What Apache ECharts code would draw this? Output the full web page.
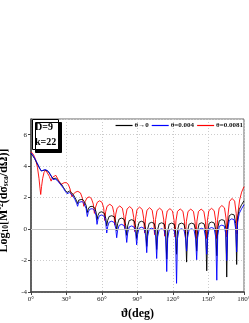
<!DOCTYPE html>
<html><head><meta charset="utf-8">
<script src="https://cdn.jsdelivr.net/npm/echarts@6/dist/echarts.min.js"></script>
<style>html,body{margin:0;padding:0;background:#fff}#c{width:249px;height:323px}</style>
</head><body><div id="c"></div>
<script>
const seriesNames = ['θ→0', 'θ=0.004', 'θ=0.0081'];
const xTicks = [0, 30, 60, 90, 120, 150, 180];
const yTicks = [-4, -2, 0, 2, 4, 6];

const angleRed = [0,2,4,5.5,6.8,7.6,8.2,8.9,9.8,11,12.5,14,15.5,17,18.3,19.6,21,22.5,24,25,26.2,28,29.8,31.5,33,34.6,35.8,37.5,39.6,41.8,43.5,44.6,45.8,47.3,49.1,51,52.6,53.6,54.6,56,58,60,61.4,62.3,
 63.1,64.3,66.6,68.8,70.0,70.8, 71.6,72.8,75.0,77.2,78.4,79.2, 80.0,81.2,83.4,85.6,86.8,87.6,
 88.4,89.6,91.8,94.0,95.2,96.0, 96.8,98.0,100.2,102.4,103.6,104.4, 105.2,106.5,108.7,110.9,112.2,113.0,
 113.8,115.1,117.4,119.6,120.9,121.7, 122.5,123.8,126.1,128.4,129.7,130.5, 131.3,132.7,135.0,137.3,138.6,139.4,
 140.2,141.5,143.8,146.1,147.4,148.2, 149.0,150.3,152.6,154.8,156.1,156.9, 157.7,159.0,161.3,163.5,164.8,165.6,
 166.4,167.7,169.9,172.1,173.4,174.2, 175.0,176.3,178.0,180.0];
const valueRed = [4.92,4.75,4.4,3.9,3.2,2.6,2.2,2.7,3.2,3.6,3.75,3.65,3.35,3.05,3.3,3.4,3.42,3.3,3.0,2.82,2.9,2.95,2.95,2.85,2.55,2.05,2.22,2.35,2.4,2.3,1.95,1.45,1.75,1.98,2.05,1.95,1.6,1.0,1.4,1.7,1.8,1.7,1.35,0.55,
 1.1,1.45,1.58,1.45,1.05,0.25, 0.95,1.33,1.47,1.33,0.85,0.05, 0.8,1.28,1.43,1.28,0.75,-0.15,
 0.7,1.25,1.40,1.25,0.7,-0.25, 0.65,1.2,1.36,1.2,0.62,-0.35, 0.6,1.18,1.33,1.18,0.58,-0.45,
 0.55,1.15,1.30,1.15,0.55,-0.5, 0.52,1.13,1.28,1.13,0.5,-0.55, 0.5,1.12,1.27,1.12,0.5,-0.6,
 0.5,1.12,1.27,1.12,0.5,-0.6, 0.52,1.17,1.32,1.17,0.55,-0.6, 0.62,1.33,1.5,1.35,0.7,-0.5,
 0.85,1.75,1.95,1.78,1.0,-0.3, 1.1,1.85,2.35,2.7];

const angleBB = [0,1.5,3,4.5,6,7.5,8.7,10,12,14,15.5,17,18.6,19.8,21,22.8,24.5,26,27.5,29,30.5,31.5,32.5,34,35.5,37,38.5,39.4,40.3,41.6,43.4,45,46.6,47.6,
 48.4,49.6,51.7,53.8,55.0,55.8, 56.6,57.8,59.9,62.0,63.2,64.0, 64.8,66.0,68.2,70.4,71.6,72.4,
 73.2,74.5,76.6,78.7,80.0,80.9, 81.7,83.0,85.1,87.2,88.5,89.3, 90.1,91.4,93.5,95.6,96.9,97.8,
 98.6,99.9,102.0,104.1,105.4,106.2, 107.0,108.3,110.4,112.5,113.8,114.7, 115.5,116.8,118.8,120.9,122.2,123.0,
 123.8,125.1,127.2,129.3,130.6,131.5, 132.3,133.6,135.7,137.8,139.1,140.0, 140.8,142.1,144.2,146.3,147.6,148.5,
 149.3,150.6,152.7,154.8,156.1,157.0, 157.8,159.1,161.2,163.3,164.6,165.4, 166.2,167.5,169.6,171.7,173.0,173.8,
 174.6,176.0,178.0,180.0];
const valueBlack = [4.8,4.66,4.48,4.27,4.05,3.83,3.7,3.72,3.76,3.7,3.56,3.38,3.2,3.26,3.24,3.08,2.95,2.82,2.64,2.46,2.33,2.3,2.42,2.4,2.22,2.02,1.8,1.62,1.84,1.92,1.9,1.75,1.5,1.05,
 1.28,1.42,1.45,1.35,1.08,0.6, 0.88,1.06,1.1,1.0,0.68,0.2, 0.55,0.8,0.85,0.78,0.45,-0.1,
 0.35,0.64,0.7,0.62,0.25,-0.4, 0.2,0.54,0.6,0.52,0.12,-0.6, 0.08,0.44,0.5,0.42,0.0,-1.1,
 0.0,0.37,0.43,0.36,-0.05,-1.3, -0.05,0.34,0.4,0.33,-0.1,-1.9, -0.12,0.32,0.38,0.32,-0.1,-1.6,
 -0.1,0.32,0.38,0.31,-0.15,-2.1, -0.15,0.31,0.38,0.32,-0.1,-1.4, -0.1,0.34,0.4,0.33,-0.15,-2.65,
 -0.15,0.38,0.45,0.39,-0.05,-1.7, 0.05,0.53,0.6,0.55,0.05,-3.05, 0.2,0.85,0.95,0.9,0.35,-2.25,
 0.75,1.25,1.55,1.8];
const valueBlue = [4.84,4.7,4.52,4.3,4.08,3.85,3.7,3.73,3.78,3.72,3.58,3.38,3.15,3.2,3.18,3.02,2.9,2.78,2.58,2.4,2.25,2.2,2.32,2.28,2.1,1.9,1.65,1.45,1.7,1.78,1.75,1.6,1.3,0.8,
 1.08,1.26,1.3,1.18,0.85,0.3, 0.62,0.85,0.9,0.8,0.4,-0.25, 0.15,0.44,0.5,0.42,0.05,-0.55,
 -0.08,0.24,0.3,0.22,-0.18,-0.85, -0.25,0.14,0.2,0.12,-0.3,-1.0, -0.33,0.06,0.12,0.04,-0.42,-1.5,
 -0.45,0.0,0.06,-0.02,-0.5,-1.87, -0.5,-0.04,0.02,-0.05,-0.55,-2.7, -0.6,-0.06,0.0,-0.06,-0.6,-3.45,
 -0.6,-0.04,0.02,-0.05,-0.55,-1.4, -0.55,-0.04,0.02,-0.05,-0.6,-1.95, -0.55,-0.01,0.05,-0.02,-0.55,-1.6,
 -0.5,0.04,0.1,0.03,-0.5,-3.25, -0.4,0.18,0.25,0.2,-0.3,-2.0, -0.1,0.55,0.65,0.6,0.0,-1.45,
 0.45,1.0,1.3,1.55];

if (angleRed.length !== valueRed.length || angleBB.length !== valueBlack.length || angleBB.length !== valueBlue.length) {
  throw new Error('length mismatch ' + angleRed.length + ' ' + valueRed.length + ' ' + angleBB.length + ' ' + valueBlack.length + ' ' + valueBlue.length);
}
const zip = (a, b) => a.map((x, i) => [x, b[i]]);

const SERIF = '"Liberation Serif","DejaVu Serif",serif';
const chart = echarts.init(document.getElementById('c'), null, {renderer: 'canvas'});
chart.setOption({
  animation: false,
  backgroundColor: '#fff',
  grid: {left: 31, right: 5, top: 119, bottom: 31, show: true, borderColor: '#666', borderWidth: 1,
    containLabel: false, outerBoundsMode: 'none'},
  title: {
    text: 'D=9\nk=22', left: 32, top: 119, padding: [1, 2, 0, 3],
    backgroundColor: '#fff', borderColor: '#000', borderWidth: 1,
    shadowColor: '#000', shadowOffsetX: 3, shadowOffsetY: 3, shadowBlur: 0,
    textStyle: {fontFamily: SERIF, fontWeight: 'bold', fontSize: 10, lineHeight: 15, color: '#000'}
  },
  legend: {
    data: seriesNames, right: 6, top: 122, icon: 'rect', itemWidth: 17, itemHeight: 1.2, itemGap: 3,
    padding: 0,
    textStyle: {fontFamily: SERIF, fontSize: 7, fontWeight: 'bold', color: '#111', padding: [0, 0, 0, -3]}
  },
  xAxis: {
    type: 'value', min: xTicks[0], max: xTicks[xTicks.length - 1], interval: 30,
    name: 'ϑ(deg)', nameLocation: 'middle', nameGap: 14,
    nameTextStyle: {fontFamily: SERIF, fontWeight: 'bold', fontSize: 12, color: '#000'},
    axisLine: {show: true, onZero: false, lineStyle: {color: '#444', width: 1.5}},
    axisTick: {show: true, length: 3, lineStyle: {color: '#444'}},
    axisLabel: {fontFamily: SERIF, fontSize: 7, color: '#222', margin: 4, formatter: v => v + '°'},
    splitLine: {show: true, lineStyle: {color: '#ccc', type: [1, 2], width: 1}}
  },
  yAxis: {
    type: 'value', min: yTicks[0], max: 7, interval: 2,
    name: '{b|Log}{s|10}{b|[M}{p|-2}{b|(dσ}{s|sca}{b|/dΩ)]}', nameLocation: 'middle', nameGap: 17, nameRotate: 90,
    nameTextStyle: {
      fontFamily: SERIF, fontWeight: 'bold', fontSize: 12, color: '#000', padding: [0, 0, 0, 10],
      rich: {
        b: {fontFamily: SERIF, fontWeight: 'bold', fontSize: 12, color: '#000'},
        s: {fontFamily: SERIF, fontWeight: 'bold', fontSize: 7.5, color: '#000', padding: [5, 0, 0, 0]},
        p: {fontFamily: SERIF, fontWeight: 'bold', fontSize: 7.5, color: '#000', padding: [0, 0, 6, 0]}
      }
    },
    axisLine: {show: true, onZero: false, lineStyle: {color: '#444', width: 1.5}},
    axisTick: {show: true, length: 3, lineStyle: {color: '#444'}},
    axisLabel: {fontFamily: SERIF, fontSize: 7, color: '#222', margin: 4, showMaxLabel: false},
    splitLine: {show: true, lineStyle: {color: '#ccc', type: [1, 2], width: 1}}
  },
  series: [
    {name: 'zero', type: 'line', data: [], z: 1, silent: true,
      markLine: {silent: true, symbol: 'none', label: {show: false},
        lineStyle: {color: '#c8c8c8', type: 'solid', width: 1.2}, data: [{yAxis: 0}]}},
    {name: seriesNames[2], type: 'line', data: zip(angleRed, valueRed), symbol: 'none', z: 2,
      lineStyle: {color: '#ff0000', width: 0.9}, itemStyle: {color: '#ff0000'}},
    {name: seriesNames[0], type: 'line', data: zip(angleBB, valueBlack), symbol: 'none', z: 3,
      lineStyle: {color: '#000', width: 0.9}, itemStyle: {color: '#000'}},
    {name: seriesNames[1], type: 'line', data: zip(angleBB, valueBlue), symbol: 'none', z: 4,
      lineStyle: {color: '#0000ff', width: 0.9}, itemStyle: {color: '#0000ff'}}
  ]
});
</script></body></html>
